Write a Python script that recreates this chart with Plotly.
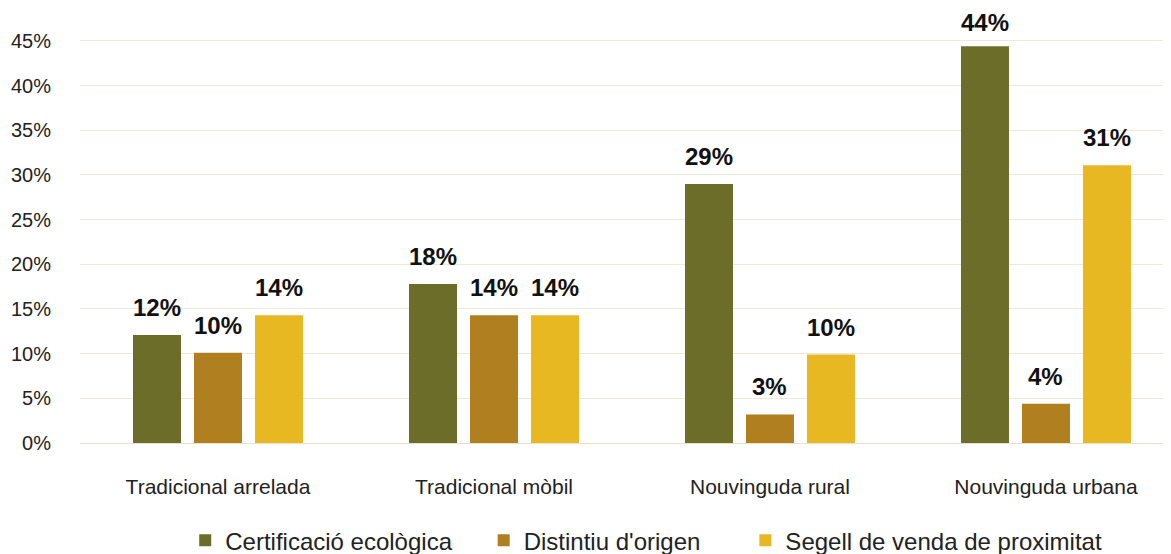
import plotly.graph_objects as go

categories = ["Tradicional arrelada", "Tradicional mòbil", "Nouvinguda rural", "Nouvinguda urbana"]
series_names = ["Certificació ecològica", "Distintiu d'origen", "Segell de venda de proximitat"]
cert_eco = [0.121, 0.178, 0.290, 0.444]
dist_origen = [0.101, 0.143, 0.032, 0.044]
segell_prox = [0.143, 0.143, 0.099, 0.311]
colors = ["#6c6d28", "#b07f20", "#e8b822"]
y_ticks = [0, 0.05, 0.10, 0.15, 0.20, 0.25, 0.30, 0.35, 0.40, 0.45]

FONT = "Liberation Sans, Arial, Helvetica, sans-serif"
NBSP = "\u00a0"
legend_pad = [NBSP * 4, NBSP * 6, ""]
Y_MAX = 0.46

fig = go.Figure()
all_series = [cert_eco, dist_origen, segell_prox]
for name, vals, col, pad in zip(series_names, all_series, colors, legend_pad):
    fig.add_trace(go.Bar(
        x=categories, y=vals, name=name + pad,
        marker=dict(color=col, line=dict(width=0)),
        hoverinfo="skip",
    ))

# value labels above bars (squeezed a little when close to the top of the axis)
slot_px = 61
for si, vals in enumerate(all_series):
    for ci, v in enumerate(vals):
        shift = 8 if v > Y_MAX - 0.03 else 12
        fig.add_annotation(
            x=categories[ci], y=v, xref="x", yref="y",
            text=f"<b>{round(v*100):d}%</b>",
            showarrow=False, xshift=(si - 1) * slot_px, yshift=shift,
            yanchor="bottom", xanchor="center",
            font=dict(family=FONT, size=24, color="#111111"),
        )

fig.update_layout(
    width=1163, height=546,
    margin=dict(l=72, r=0, t=24, b=111, autoexpand=False),
    paper_bgcolor="white", plot_bgcolor="white",
    barmode="group", bargap=0.337, bargroupgap=0.213,
    font=dict(family=FONT, size=20, color="#222222"),
    showlegend=True,
    legend=dict(
        orientation="h", x=0.519, xanchor="center", y=-0.183, yanchor="top",
        font=dict(family=FONT, size=24, color="#222222"),
        traceorder="normal", itemwidth=30,
    ),
    xaxis=dict(
        range=[-0.5, 3.453], showgrid=False, zeroline=False, showline=False,
        automargin=False,
        ticks="outside", ticklen=25, tickcolor="rgba(0,0,0,0)",
        tickfont=dict(family=FONT, size=21, color="#222222"),
    ),
    yaxis=dict(
        range=[0, Y_MAX], tickvals=y_ticks, tickformat=".0%",
        automargin=False,
        showgrid=True, gridcolor="#ece9d9", gridwidth=1,
        zeroline=True, zerolinecolor="#e6e2cf", zerolinewidth=1,
        showline=False,
        ticks="outside", ticklen=24, tickcolor="rgba(0,0,0,0)",
        tickfont=dict(family=FONT, size=20, color="#222222"),
    ),
)

fig.write_html("out.html")
